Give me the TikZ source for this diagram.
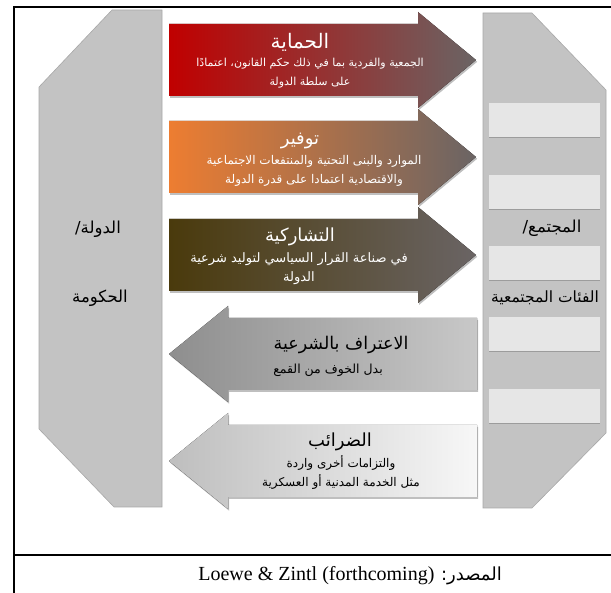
\documentclass[tikz,border=0pt]{standalone}
\usepackage{fontspec}
\setmainfont{Liberation Serif}
\newfontfamily\arabicfont[Script=Arabic]{DejaVu Sans}
\TeXXeTstate=1
\usepackage{tikz}
\definecolor{panelgray}{HTML}{C3C3C3}
\definecolor{paneledge}{HTML}{A8A8A8}
\definecolor{slotgray}{HTML}{E6E6E6}
\definecolor{slotedge}{HTML}{9C9C9C}
\definecolor{protred}{HTML}{C00000}
\definecolor{provorange}{HTML}{ED7D31}
\definecolor{partbrown}{HTML}{4A3A0C}
\definecolor{arrowgray}{HTML}{6A6464}
\definecolor{recdark}{HTML}{8E8E8E}
\definecolor{reclight}{HTML}{C8C8C8}
\definecolor{taxgray}{HTML}{BEBEBE}
\definecolor{taxwhite}{HTML}{F7F7F7}
\newcommand{\rl}[1]{\beginR#1\endR}
\newcommand{\arsize}[1]{\arabicfont\fontsize{#1}{19}\selectfont}
\tikzset{frame/.style={line width=1.4pt}, panel/.style={fill=panelgray, draw=paneledge, line width=0.6pt},
	shade/.style={fill=black, opacity=0.25, shift={(1.2,1.8)}},
	title/.style={font=\arsize{18}, inner sep=0pt},
	body/.style={font=\arsize{12}, align=center, inner sep=0pt},
	sidelabel/.style={font=\arsize{16.5}, inner sep=0pt}}

\begin{document}
\begin{tikzpicture}[x=1pt, y=-1pt]
	\useasboundingbox (0,0) rectangle (611,593);
	% frame
	\draw[frame] (611,7) -- (14,7) -- (14,593);
	\draw[frame] (14,555) -- (611,555);
	% state and society
	\draw[panel] (162,10) -- (112,10) -- (39,87) -- (39,429) -- (114,507) -- (162,507) -- cycle;
	\draw[panel] (483,13) -- (532,13) -- (606,90) -- (606,433) -- (532,508) -- (483,508) -- cycle;
	\foreach \y in {103,175,246,317,389} {
		\fill[slotgray] (489,\y) rectangle (600,\y+34);
		\draw[slotedge, line width=0.8pt] (489,\y+34) -- (600,\y+34);
	}
	% state to society
	\foreach \c/\lc/\rc in {60/protred/arrowgray, 157/provorange/arrowgray, 255/partbrown/arrowgray} {
		\fill[shade] (169,\c-36) -- (418,\c-36) -- (418,\c-48) -- (476,\c) -- (418,\c+48) -- (418,\c+36) -- (169,\c+36) -- cycle;
		\fill[left color=\lc, right color=\rc] (169,\c-36) -- (418,\c-36) -- (418,\c-48) -- (476,\c) -- (418,\c+48) -- (418,\c+36) -- (169,\c+36) -- cycle;
	}
	% society to state
	\foreach \c/\lc/\rc in {354/recdark/reclight, 461/taxgray/taxwhite} {
		\fill[shade] (477,\c-36) -- (228,\c-36) -- (228,\c-48) -- (169,\c) -- (228,\c+48) -- (228,\c+36) -- (477,\c+36) -- cycle;
		\fill[left color=\lc, right color=\rc] (477,\c-36) -- (228,\c-36) -- (228,\c-48) -- (169,\c) -- (228,\c+48) -- (228,\c+36) -- (477,\c+36) -- cycle;
	}

	\node[title, text=white, font=\arsize{20}] (protTitle) at (300,42) {\rl{الحماية}};
	\node[body, text=white, font=\arsize{11}] (protText) at (310,73) {\rl{الجمعية والفردية بما في ذلك حكم القانون، اعتمادًا}\\\rl{على سلطة الدولة}};
	\node[title, text=white] (provTitle) at (300,141) {\rl{توفير}};
	\node[body, text=white] (provText) at (314,171) {\rl{الموارد والبنى التحتية والمنتفعات الاجتماعية}\\\rl{والاقتصادية اعتمادا على قدرة الدولة}};
	\node[title, text=white] (partTitle) at (300,237) {\rl{التشاركية}};
	\node[body, text=white, font=\arsize{13}] (partText) at (299,269) {\rl{في صناعة القرار السياسي لتوليد شرعية}\\\rl{الدولة}};
	\node[title, font=\arsize{17.5}] (recTitle) at (341,345) {\rl{الاعتراف بالشرعية}};
	\node[body, font=\arsize{12.5}] (recText) at (328,370) {\rl{بدل الخوف من القمع}};
	\node[title] (taxTitle) at (340,442) {\rl{الضرائب}};
	\node[body] (taxText) at (341,472) {\rl{والتزامات أخرى واردة}\\\rl{مثل الخدمة المدنية أو العسكرية}};

	\node[sidelabel] (stateA) at (98,229) {\rl{الدولة/}};
	\node[sidelabel] (stateB) at (100,298) {\rl{الحكومة}};
	\node[sidelabel] (socA) at (552,228) {\rl{المجتمع/}};
	\node[sidelabel, font=\arsize{15.5}] (socB) at (545,298) {\rl{الفئات المجتمعية}};

	\node[anchor=east, inner sep=0pt, font=\fontsize{20}{22}\selectfont] (source) at (502,576) {\beginR{\arsize{18}المصدر:} \beginL Loewe \& Zintl (forthcoming)\endL\endR};
\end{tikzpicture}
\end{document}
